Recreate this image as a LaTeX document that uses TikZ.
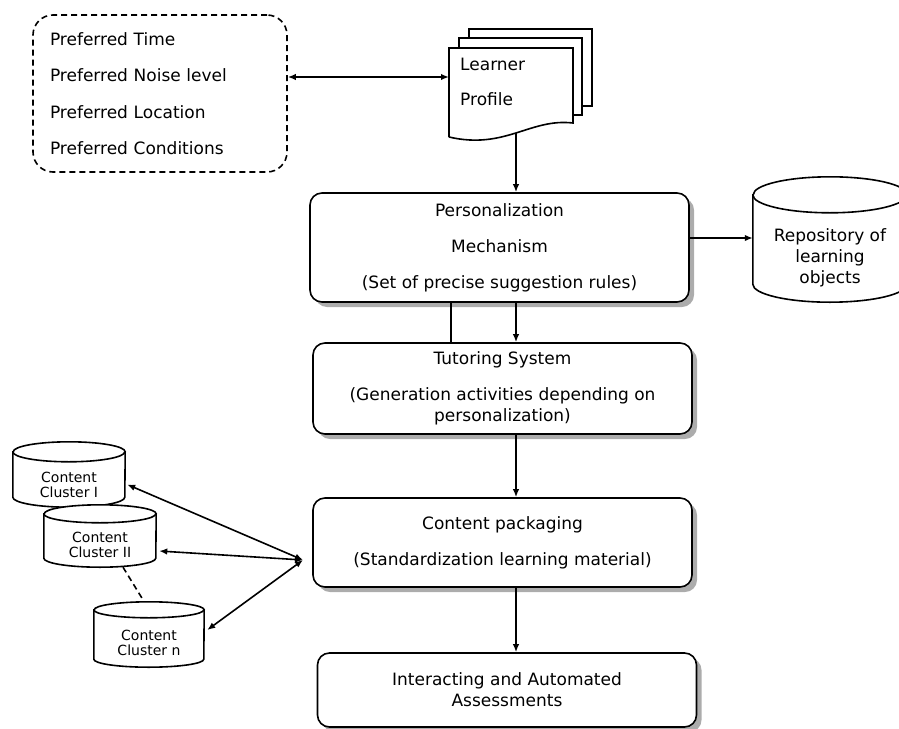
\documentclass[tikz,border=0pt]{standalone}
\usepackage{fontspec}
\setmainfont{DejaVu Sans}
\usetikzlibrary{shadows,arrows.meta,backgrounds}

% cylinder outline round a node: #1 node, #2 half width, #3 half height of the cap
\newcommand{\storeshape}[3]{%
  \draw[line width=1.6pt,fill=white] ([yshift=#3]#1.north west) -- ([yshift=#3]#1.south west)
    arc[start angle=180,end angle=360,x radius=#2,y radius=#3] -- ([yshift=#3]#1.north east)
    arc[start angle=0,end angle=180,x radius=#2,y radius=#3] -- cycle;
  \draw[line width=1.6pt] ([yshift=#3]#1.north west) arc[start angle=180,end angle=360,x radius=#2,y radius=#3];}

\begin{document}
\begin{tikzpicture}[x=1pt,y=-1pt,>={Latex[length=8pt,width=6.5pt]}]
\tikzstyle{block}=[draw,line width=1.6pt,rounded corners=12pt,fill=white,align=center,minimum width=379pt,font=\fontsize{17}{21}\selectfont,drop shadow={shadow xshift=5pt,shadow yshift=-5pt,fill=gray!65,opacity=1}]
\tikzstyle{store}=[align=center,inner sep=0pt,font=\fontsize{14}{15}\selectfont]
\tikzstyle{link}=[line width=1.6pt]
\tikzstyle{page}=[draw,line width=1.6pt,fill=white]

\useasboundingbox (0,0) rectangle (899,728);

% learner preferences
\node (prefs) [draw,dash pattern=on 6pt off 4pt,line width=1.6pt,rounded corners=20pt,minimum width=254pt,minimum height=157pt,
  text width=220pt,align=left,font=\fontsize{17}{21}\selectfont] at (160,93.5)
  {Preferred Time\\[15.5pt]Preferred Noise level\\[15.5pt]Preferred Location\\[15.5pt]Preferred Conditions};

% learner profile (stack of pages)
\draw[page] (469,29) rectangle (592,106);
\draw[page] (459,38) rectangle (582,115);
\draw[page] (449,137) -- (449,48) -- (573,48) -- (573,123) .. controls (530,118) and (505,150) .. (449,137);
\node (profile) [align=left,anchor=west,inner sep=0pt,font=\fontsize{17}{21}\selectfont] at (460,82) {Learner\\[14pt]Profile};
\coordinate (docleft) at (449,77);
\coordinate (docbottom) at (516,133);

% main chain
\node (pers) [block,minimum height=109pt] at (499.5,247.5)
  {Personalization\\[15pt]Mechanism\\[15pt](Set of precise suggestion rules)};
\node (tutor) [block,minimum height=91pt] at (502.5,388.5)
  {Tutoring System\\[15pt](Generation activities depending on\\personalization)};
\node (pack) [block,minimum height=89pt] at (502.5,542.5)
  {Content packaging\\[15pt](Standardization learning material)};
\node (assess) [block,minimum height=74pt] at (507,690)
  {Interacting and Automated\\Assessments};

% stores
\node (repo) [store,minimum width=154pt,minimum height=89pt,font=\fontsize{17}{21}\selectfont] at (830,257.5)
  {Repository of\\learning\\objects};
\node (c1) [store,minimum width=112pt,minimum height=45pt] at (69,484.5) {Content\\Cluster I};
\node (c2) [store,minimum width=112pt,minimum height=44pt] at (100,545) {Content\\Cluster II};
\node (cn) [store,minimum width=110pt,minimum height=49pt] at (149,642.5) {Content\\Cluster n};
\begin{pgfonlayer}{background}
\storeshape{repo}{77pt}{18pt}
\storeshape{c1}{56pt}{10pt}
\storeshape{c2}{56pt}{9pt}
\storeshape{cn}{55pt}{8pt}
\end{pgfonlayer}
\coordinate (hub) at (303,560);

% connectors
\draw[link,<->] (prefs.east |- docleft) -- (docleft);
\draw[link,->] (docbottom) -- (docbottom |- pers.north);
\draw[link,->] ([yshift=9.5]pers.east) -- ([yshift=9.5]pers.east -| repo.west);
\draw[link] ([xshift=-48.5]pers.south) -- ([xshift=-48.5]pers.south |- tutor.north);
\draw[link,->] (docbottom |- pers.south) -- (docbottom |- tutor.north);
\draw[link,->] (docbottom |- tutor.south) -- (docbottom |- pack.north);
\draw[link,->] (docbottom |- pack.south) -- (docbottom |- assess.north);
\draw[link,<->] ([xshift=2]c1.east) -- (hub);
\draw[link,<->] ([xshift=3,yshift=-6]c2.east) -- (hub);
\draw[link,<->] ([xshift=3,yshift=12.5]cn.east) -- (hub);
\draw[link,dash pattern=on 6pt off 4pt] ([xshift=23]c2.south) -- ([xshift=-6,yshift=18]cn.north);

\end{tikzpicture}
\end{document}
